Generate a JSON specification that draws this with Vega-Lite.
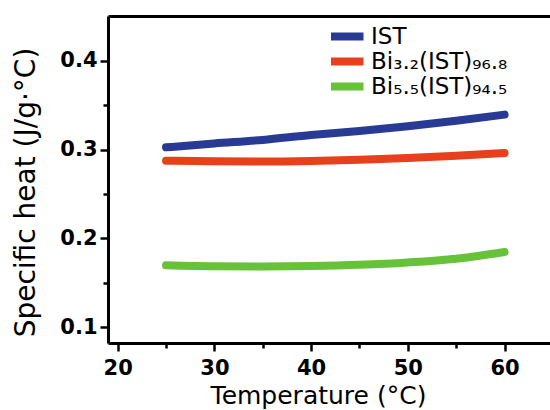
{
  "$schema": "https://vega.github.io/schema/vega-lite/v6.json",
  "autosize": {"type": "none"},
  "padding": {"left": 108, "top": 16, "right": 0, "bottom": 67},
  "width": 442,
  "height": 327,
  "background": "white",
  "config": {
    "view": {"stroke": null},
    "font": "DejaVu Sans",
    "axis": {"domainColor": "black", "domainWidth": 3, "tickColor": "black", "tickWidth": 2.5, "labelColor": "black", "titleColor": "black", "grid": false}
  },
  "data": {"values": [
    {"T": 25, "Cp": 0.3026, "s": "IST"},
    {"T": 30, "Cp": 0.3070, "s": "IST"},
    {"T": 35, "Cp": 0.3110, "s": "IST"},
    {"T": 40, "Cp": 0.3165, "s": "IST"},
    {"T": 45, "Cp": 0.3210, "s": "IST"},
    {"T": 50, "Cp": 0.3265, "s": "IST"},
    {"T": 55, "Cp": 0.3327, "s": "IST"},
    {"T": 60, "Cp": 0.3395, "s": "IST"},
    {"T": 25, "Cp": 0.2876, "s": "Bi₃.₂(IST)₉₆.₈"},
    {"T": 30, "Cp": 0.2868, "s": "Bi₃.₂(IST)₉₆.₈"},
    {"T": 35, "Cp": 0.2866, "s": "Bi₃.₂(IST)₉₆.₈"},
    {"T": 40, "Cp": 0.2872, "s": "Bi₃.₂(IST)₉₆.₈"},
    {"T": 45, "Cp": 0.2885, "s": "Bi₃.₂(IST)₉₆.₈"},
    {"T": 50, "Cp": 0.2905, "s": "Bi₃.₂(IST)₉₆.₈"},
    {"T": 55, "Cp": 0.2930, "s": "Bi₃.₂(IST)₉₆.₈"},
    {"T": 60, "Cp": 0.2963, "s": "Bi₃.₂(IST)₉₆.₈"},
    {"T": 25, "Cp": 0.1696, "s": "Bi₅.₅(IST)₉₄.₅"},
    {"T": 30, "Cp": 0.1685, "s": "Bi₅.₅(IST)₉₄.₅"},
    {"T": 35, "Cp": 0.1683, "s": "Bi₅.₅(IST)₉₄.₅"},
    {"T": 40, "Cp": 0.1688, "s": "Bi₅.₅(IST)₉₄.₅"},
    {"T": 45, "Cp": 0.1702, "s": "Bi₅.₅(IST)₉₄.₅"},
    {"T": 50, "Cp": 0.1728, "s": "Bi₅.₅(IST)₉₄.₅"},
    {"T": 55, "Cp": 0.1770, "s": "Bi₅.₅(IST)₉₄.₅"},
    {"T": 60, "Cp": 0.1846, "s": "Bi₅.₅(IST)₉₄.₅"}
  ]},
  "resolve": {"axis": {"x": "independent", "y": "independent"}},
  "layer": [
    {
      "mark": {"type": "line", "strokeWidth": 8, "strokeCap": "round", "interpolate": "monotone"},
      "encoding": {
        "x": {"field": "T", "type": "quantitative",
          "scale": {"domain": [19, 64.7], "nice": false, "zero": false},
          "axis": {"orient": "bottom", "values": [20, 30, 40, 50, 60], "tickSize": 8, "labelFontSize": 21, "labelFontWeight": "bold", "labelPadding": 6, "labelFlush": false,
            "title": "Temperature (°C)", "titleFontSize": 25, "titleFontWeight": "normal", "titleX": 210, "titleY": 60, "titleBaseline": "alphabetic", "titleAlign": "center"}},
        "y": {"field": "Cp", "type": "quantitative",
          "scale": {"domain": [0.082, 0.4507], "nice": false, "zero": false},
          "axis": {"orient": "left", "values": [0.1, 0.2, 0.3, 0.4], "format": ".1f", "tickSize": 8, "labelFontSize": 21, "labelFontWeight": "bold", "labelPadding": 3, "labelFlush": false,
            "title": "Specific heat (J/g·°C)", "titleFontSize": 28, "titleFontWeight": "normal", "titleX": -68, "titleY": 176, "titleBaseline": "bottom", "titleAlign": "center"}},
        "color": {"field": "s", "type": "nominal",
          "sort": ["IST", "Bi₃.₂(IST)₉₆.₈", "Bi₅.₅(IST)₉₄.₅"],
          "scale": {"domain": ["IST", "Bi₃.₂(IST)₉₆.₈", "Bi₅.₅(IST)₉₄.₅"], "range": ["#283a93", "#e8401c", "#67c23a"]},
          "legend": {"title": null, "orient": "none", "legendX": 223, "legendY": 8, "padding": 0,
            "symbolType": "M-3.5,0H3.5", "symbolSize": 144, "symbolStrokeWidth": 8, "clipHeight": 25,
            "labelFontSize": 23, "labelOffset": 17, "rowPadding": 0, "labelColor": "black"}}
      }
    },
    {
      "mark": {"type": "point", "opacity": 0},
      "encoding": {
        "x": {"field": "T", "type": "quantitative",
          "axis": {"orient": "bottom", "values": [25, 35, 45, 55], "tickSize": 5, "labels": false, "domain": false, "title": null}},
        "y": {"field": "Cp", "type": "quantitative",
          "axis": {"orient": "left", "values": [0.15, 0.25, 0.35], "tickSize": 5, "labels": false, "domain": false, "title": null}}
      }
    },
    {
      "mark": {"type": "point", "opacity": 0},
      "encoding": {
        "x": {"field": "T", "type": "quantitative",
          "axis": {"orient": "top", "ticks": false, "labels": false, "domain": true, "title": null}}
      }
    }
  ]
}
